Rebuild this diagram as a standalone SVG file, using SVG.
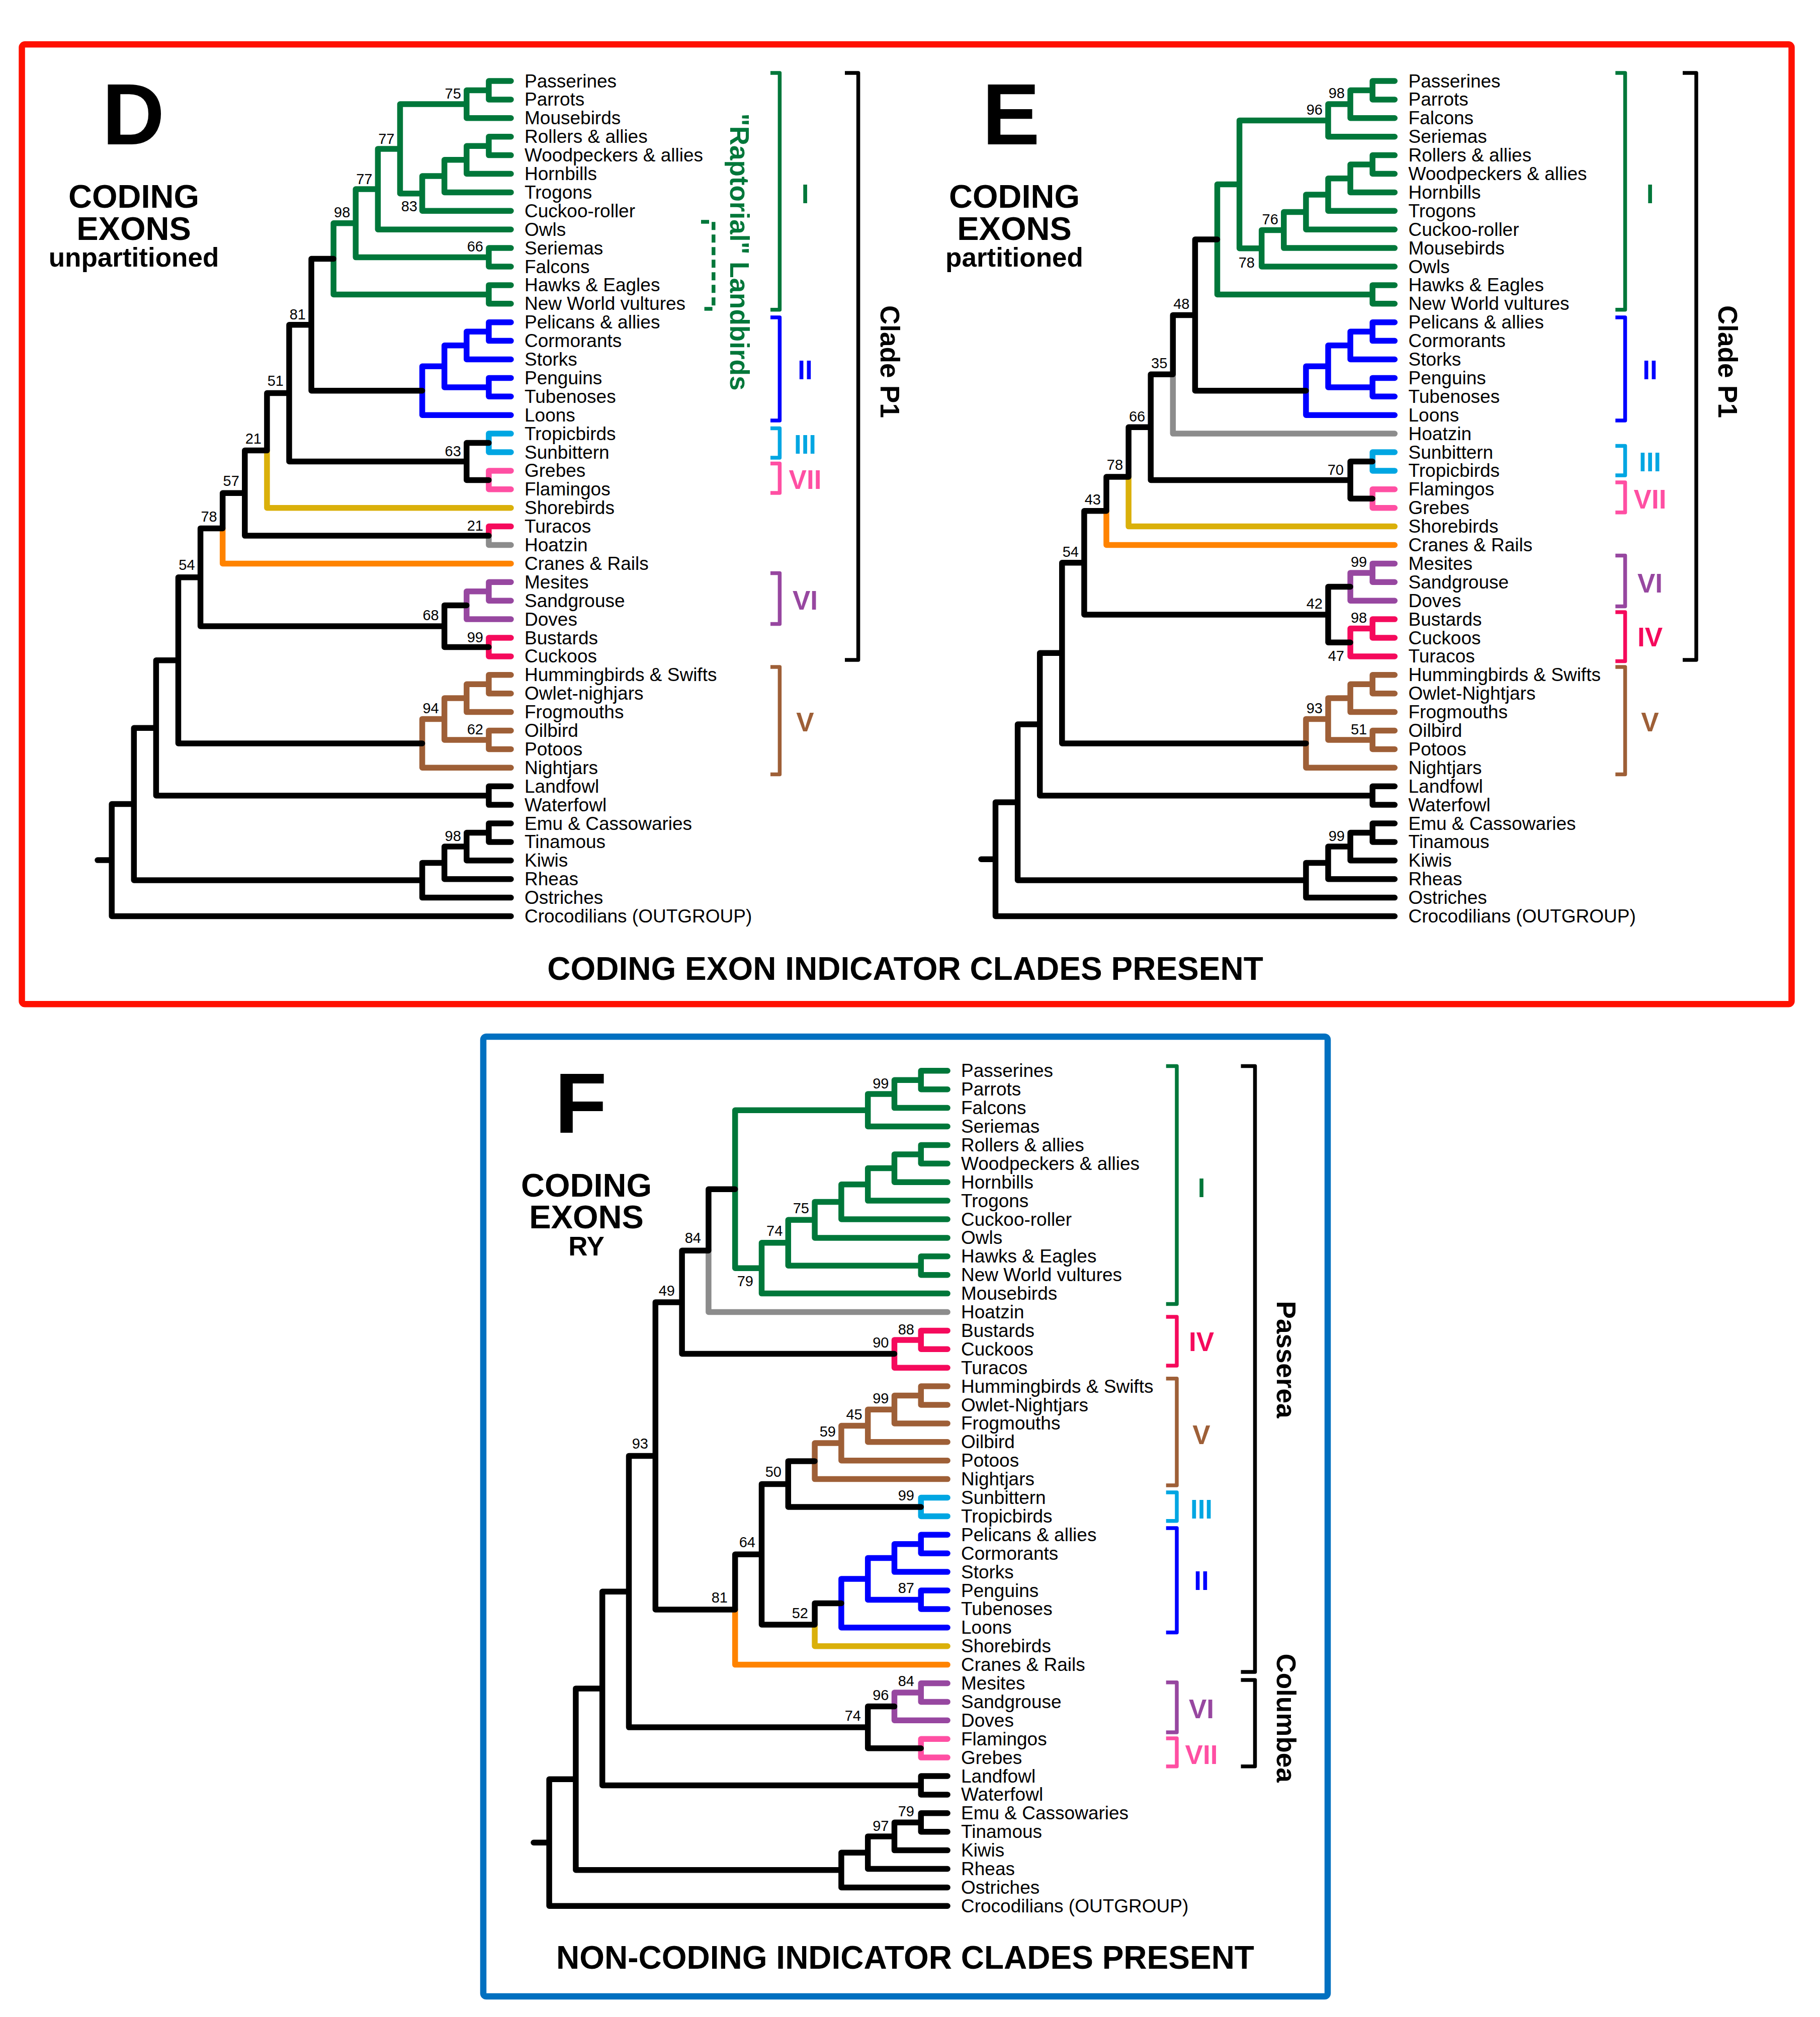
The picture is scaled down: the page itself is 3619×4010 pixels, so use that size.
<svg xmlns="http://www.w3.org/2000/svg" width="3619" height="4010" viewBox="0 0 3619 4010">
<style>
text{font-family:"Liberation Sans",Arial,Helvetica,sans-serif}
.br{fill:none;stroke-width:11.5;stroke-linecap:round;stroke-linejoin:round}
.bk{fill:none;stroke-width:7.5;stroke-linejoin:round}
.k{stroke:#000}.g{stroke:#00773A}.b{stroke:#0000FF}.c{stroke:#00A6E2}.p{stroke:#FF4FA3}.v{stroke:#9747A0}.r{stroke:#F50A5C}.n{stroke:#9E5F37}.y{stroke:#DAB00A}.o{stroke:#FF8300}.gr{stroke:#8C8C8C}
.lab{font-size:37px;fill:#000}
.bs{font-size:29px;text-anchor:end;fill:#000}
.num{font-size:53px;font-weight:bold;text-anchor:middle}
.rot{font-size:53px;font-weight:bold;text-anchor:middle}
.big{font-size:172px;font-weight:bold}
.hd{font-size:65px;font-weight:bold;text-anchor:middle}
.sub{font-size:53px;font-weight:bold;text-anchor:middle}
.ttl{font-size:64px;font-weight:bold;text-anchor:middle}
.fg{fill:#00773A}.fb{fill:#0000FF}.fc{fill:#00A6E2}.fp{fill:#FF4FA3}.fv{fill:#9747A0}.fr{fill:#F50A5C}.fn{fill:#9E5F37}
</style>
<rect x="0" y="0" width="3619" height="4010" fill="#fff"/>
<g id="frames">
<rect x="43.5" y="88.3" width="3519" height="1908" rx="6" fill="none" stroke="#FF1000" stroke-width="12.5"/>
<rect x="961" y="2061" width="1679" height="1908" rx="6" fill="none" stroke="#0070C0" stroke-width="12.5"/>
</g>

<!-- ================= PANEL D ================= -->
<g id="panel-D-titles">
<text x="203" y="287" class="big">D</text>
<text x="266" y="413" class="hd">CODING</text>
<text x="266" y="477" class="hd">EXONS</text>
<text x="266" y="530" class="sub">unpartitioned</text>
<text x="1800" y="1948" class="ttl">CODING EXON INDICATOR CLADES PRESENT</text>
</g>
<g id="panel-D-connectors">
<path class="br g" d="M1016 161H971.9V197.9H1016M971.9 179.5H927.8V234.8H1016M1016 271.7H971.9V308.6H1016M971.9 290.2H927.8V345.5H1016M927.8 317.8H883.7V382.4H1016M883.7 350.1H839.6V419.3H1016M927.8 207.1H795.5V384.7H839.6M795.5 295.9H751.4V456.2H1016M1016 493.1H971.9V530H1016M751.4 376.1H707.3V511.6H971.9M1016 566.9H971.9V603.8H1016M707.3 443.8H663.2V585.4H971.9"/>
<path class="br b" d="M1016 640.7H971.9V677.6H1016M971.9 659.2H927.8V714.5H1016M1016 751.4H971.9V788.3H1016M927.8 686.8H883.7V769.9H971.9M883.7 728.3H839.6V825.2H1016"/>
<path class="br c" d="M1016 862.1H971.9V899H1016"/>
<path class="br p" d="M1016 935.9H971.9V972.8H1016"/>
<path class="br y" d="M530.9 895.6V1009.7H1016"/>
<path class="br r" d="M971.9 1065.1V1046.6H1016M1016 1268H971.9V1304.9H1016"/>
<path class="br gr" d="M971.9 1065.1V1083.5H1016"/>
<path class="br o" d="M442.7 1050.4V1120.4H1016"/>
<path class="br v" d="M1016 1157.3H971.9V1194.2H1016M971.9 1175.8H927.8V1231.1H1016"/>
<path class="br n" d="M1016 1341.8H971.9V1378.7H1016M971.9 1360.3H927.8V1415.6H1016M1016 1452.5H971.9V1489.4H1016M927.8 1387.9H883.7V1471H971.9M883.7 1429.4H839.6V1526.3H1016"/>
<path class="br k" d="M663.2 514.6H619.1V776.8H839.6M971.9 880.6H927.8V954.4H971.9M619.1 645.7H575V917.5H927.8M575 781.6H530.9V895.6M530.9 895.6H486.8V1065.1H971.9M486.8 980.3H442.7V1050.4M927.8 1203.4H883.7V1286.5H971.9M442.7 1050.4H398.6V1244.9H883.7M398.6 1147.7H354.5V1477.9H839.6M1016 1563.2H971.9V1600.1H1016M354.5 1312.8H310.4V1581.7H971.9M1016 1637H971.9V1673.9H1016M971.9 1655.5H927.8V1710.8H1016M927.8 1683.1H883.7V1747.7H1016M883.7 1715.4H839.6V1784.6H1016M310.4 1447.2H266.3V1750H839.6M266.3 1598.6H222.2V1821.5H1016M194 1710.1H222.2"/>
</g>
<g id="panel-D-support">
<text class="bs" x="916.8" y="196">75</text><text class="bs" x="784.5" y="285.5">77</text><text class="bs" x="740.4" y="365.5">77</text><text class="bs" x="830" y="420">83</text><text class="bs" x="696.3" y="431.5">98</text><text class="bs" x="960.9" y="500">66</text><text class="bs" x="608" y="634.5">81</text><text class="bs" x="564" y="767">51</text><text class="bs" x="916.8" y="906.5">63</text><text class="bs" x="520" y="882">21</text><text class="bs" x="475.8" y="966">57</text><text class="bs" x="960.9" y="1055">21</text><text class="bs" x="431.7" y="1037">78</text><text class="bs" x="387.6" y="1133">54</text><text class="bs" x="872.7" y="1233">68</text><text class="bs" x="960.9" y="1276.5">99</text><text class="bs" x="872.7" y="1418.4">94</text><text class="bs" x="960.9" y="1459.5">62</text><text class="bs" x="916.8" y="1671.5">98</text>
</g>
<g id="panel-D-leaves" class="lab">
<text id="D-passerines" class="lab" x="1043" y="173.5">Passerines</text>
<text id="D-parrots" class="lab" x="1043" y="210.4">Parrots</text>
<text id="D-mousebirds" class="lab" x="1043" y="247.3">Mousebirds</text>
<text id="D-rollers" class="lab" x="1043" y="284.2">Rollers &amp; allies</text>
<text id="D-woodpeckers" class="lab" x="1043" y="321.1">Woodpeckers &amp; allies</text>
<text id="D-hornbills" class="lab" x="1043" y="358">Hornbills</text>
<text id="D-trogons" class="lab" x="1043" y="394.9">Trogons</text>
<text id="D-cuckooroller" class="lab" x="1043" y="431.8">Cuckoo-roller</text>
<text id="D-owls" class="lab" x="1043" y="468.7">Owls</text>
<text id="D-seriemas" class="lab" x="1043" y="505.6">Seriemas</text>
<text id="D-falcons" class="lab" x="1043" y="542.5">Falcons</text>
<text id="D-hawks" class="lab" x="1043" y="579.4">Hawks &amp; Eagles</text>
<text id="D-nwv" class="lab" x="1043" y="616.3">New World vultures</text>
<text id="D-pelicans" class="lab" x="1043" y="653.2">Pelicans &amp; allies</text>
<text id="D-cormorants" class="lab" x="1043" y="690.1">Cormorants</text>
<text id="D-storks" class="lab" x="1043" y="727">Storks</text>
<text id="D-penguins" class="lab" x="1043" y="763.9">Penguins</text>
<text id="D-tubenoses" class="lab" x="1043" y="800.8">Tubenoses</text>
<text id="D-loons" class="lab" x="1043" y="837.7">Loons</text>
<text id="D-tropicbirds" class="lab" x="1043" y="874.6">Tropicbirds</text>
<text id="D-sunbittern" class="lab" x="1043" y="911.5">Sunbittern</text>
<text id="D-grebes" class="lab" x="1043" y="948.4">Grebes</text>
<text id="D-flamingos" class="lab" x="1043" y="985.3">Flamingos</text>
<text id="D-shorebirds" class="lab" x="1043" y="1022.2">Shorebirds</text>
<text id="D-turacos" class="lab" x="1043" y="1059.1">Turacos</text>
<text id="D-hoatzin" class="lab" x="1043" y="1096">Hoatzin</text>
<text id="D-cranes" class="lab" x="1043" y="1132.9">Cranes &amp; Rails</text>
<text id="D-mesites" class="lab" x="1043" y="1169.8">Mesites</text>
<text id="D-sandgrouse" class="lab" x="1043" y="1206.7">Sandgrouse</text>
<text id="D-doves" class="lab" x="1043" y="1243.6">Doves</text>
<text id="D-bustards" class="lab" x="1043" y="1280.5">Bustards</text>
<text id="D-cuckoos" class="lab" x="1043" y="1317.4">Cuckoos</text>
<text id="D-hummingbirds" class="lab" x="1043" y="1354.3">Hummingbirds &amp; Swifts</text>
<text id="D-owlet" class="lab" x="1043" y="1391.2">Owlet-nighjars</text>
<text id="D-frogmouths" class="lab" x="1043" y="1428.1">Frogmouths</text>
<text id="D-oilbird" class="lab" x="1043" y="1465">Oilbird</text>
<text id="D-potoos" class="lab" x="1043" y="1501.9">Potoos</text>
<text id="D-nightjars" class="lab" x="1043" y="1538.8">Nightjars</text>
<text id="D-landfowl" class="lab" x="1043" y="1575.7">Landfowl</text>
<text id="D-waterfowl" class="lab" x="1043" y="1612.6">Waterfowl</text>
<text id="D-emu" class="lab" x="1043" y="1649.5">Emu &amp; Cassowaries</text>
<text id="D-tinamous" class="lab" x="1043" y="1686.4">Tinamous</text>
<text id="D-kiwis" class="lab" x="1043" y="1723.3">Kiwis</text>
<text id="D-rheas" class="lab" x="1043" y="1760.2">Rheas</text>
<text id="D-ostriches" class="lab" x="1043" y="1797.1">Ostriches</text>
<text id="D-croc" class="lab" x="1043" y="1834">Crocodilians (OUTGROUP)</text>
</g>
<g id="panel-D-brackets">
<path class="bk g" d="M1532 145H1550.4V615.7H1532"/>
<path class="bk b" d="M1532 631H1550.4V836H1532"/>
<path class="bk c" d="M1532 851.5H1550.4V910H1532"/>
<path class="bk p" d="M1532 921.5H1550.4V980H1532"/>
<path class="bk v" d="M1532 1139.5H1550.4V1240.6H1532"/>
<path class="bk n" d="M1532 1326H1550.4V1539.6H1532"/>
<path class="bk k" d="M1680 145H1706.6V1312H1680"/>
<path class="bk g" stroke-dasharray="16 9" d="M1394 441H1418.8V614H1394"/>
<text class="num fg" x="1601" y="404">I</text>
<text class="num fb" x="1601" y="754">II</text>
<text class="num fc" x="1601" y="902">III</text>
<text class="num fp" x="1601" y="972">VII</text>
<text class="num fv" x="1601" y="1212">VI</text>
<text class="num fn" x="1601" y="1454">V</text>
<text class="rot fg" transform="translate(1452 501) rotate(90)">"Raptorial" Landbirds</text>
<text class="rot" transform="translate(1751 719) rotate(90)">Clade P1</text>
</g>

<!-- ================= PANEL E ================= -->
<g id="panel-E-titles">
<text x="1953" y="287" class="big">E</text>
<text x="2017" y="413" class="hd">CODING</text>
<text x="2017" y="477" class="hd">EXONS</text>
<text x="2017" y="530" class="sub">partitioned</text>
</g>
<g id="panel-E-connectors">
<path class="br g" d="M2773.3 161H2729.2V197.9H2773.3M2729.2 179.5H2685.1V234.8H2773.3M2685.1 207.1H2641V271.7H2773.3M2773.3 308.6H2729.2V345.5H2773.3M2729.2 327.1H2685.1V382.4H2773.3M2685.1 354.7H2641V419.3H2773.3M2641 387H2596.9V456.2H2773.3M2596.9 421.6H2552.8V493.1H2773.3M2552.8 457.4H2508.7V530H2773.3M2641 239.4H2464.6V493.7H2508.7M2773.3 566.9H2729.2V603.8H2773.3M2464.6 366.5H2420.5V585.4H2729.2"/>
<path class="br b" d="M2773.3 640.7H2729.2V677.6H2773.3M2729.2 659.2H2685.1V714.5H2773.3M2773.3 751.4H2729.2V788.3H2773.3M2685.1 686.8H2641V769.9H2729.2M2641 728.3H2596.9V825.2H2773.3"/>
<path class="br gr" d="M2332.3 744.2V862.1H2773.3"/>
<path class="br c" d="M2773.3 899H2729.2V935.9H2773.3"/>
<path class="br p" d="M2773.3 972.8H2729.2V1009.7H2773.3"/>
<path class="br y" d="M2244.1 948V1046.6H2773.3"/>
<path class="br o" d="M2200 1015.7V1083.5H2773.3"/>
<path class="br v" d="M2773.3 1120.4H2729.2V1157.3H2773.3M2729.2 1138.9H2685.1V1194.2H2773.3"/>
<path class="br r" d="M2773.3 1231.1H2729.2V1268H2773.3M2729.2 1249.6H2685.1V1304.9H2773.3"/>
<path class="br n" d="M2773.3 1341.8H2729.2V1378.7H2773.3M2729.2 1360.3H2685.1V1415.6H2773.3M2773.3 1452.5H2729.2V1489.4H2773.3M2685.1 1387.9H2641V1471H2729.2M2641 1429.4H2596.9V1526.3H2773.3"/>
<path class="br k" d="M2420.5 476H2376.4V776.8H2596.9M2376.4 626.4H2332.3V744.2M2729.2 917.5H2685.1V991.3H2729.2M2332.3 744.2H2288.2V954.4H2685.1M2288.2 849.3H2244.1V948M2244.1 948H2200V1015.7M2685.1 1166.5H2641V1277.2H2685.1M2200 1015.7H2155.9V1221.9H2641M2155.9 1118.8H2111.8V1477.9H2596.9M2773.3 1563.2H2729.2V1600.1H2773.3M2111.8 1298.3H2067.7V1581.7H2729.2M2773.3 1637H2729.2V1673.9H2773.3M2729.2 1655.5H2685.1V1710.8H2773.3M2685.1 1683.1H2641V1747.7H2773.3M2641 1715.4H2596.9V1784.6H2773.3M2067.7 1440H2023.6V1750H2596.9M2023.6 1595H1979.5V1821.5H2773.3M1951 1708.3H1979.5"/>
</g>
<g id="panel-E-support">
<text class="bs" x="2674" y="195">98</text><text class="bs" x="2630" y="228.2">96</text><text class="bs" x="2541.8" y="446.2">76</text><text class="bs" x="2495" y="531.5">78</text><text class="bs" x="2365.4" y="614">48</text><text class="bs" x="2321.3" y="732">35</text><text class="bs" x="2277.2" y="838">66</text><text class="bs" x="2233.1" y="934">78</text><text class="bs" x="2189" y="1003">43</text><text class="bs" x="2672" y="943.6">70</text><text class="bs" x="2144.9" y="1106.5">54</text><text class="bs" x="2718.2" y="1127">99</text><text class="bs" x="2630" y="1210.2">42</text><text class="bs" x="2718.2" y="1238.3">98</text><text class="bs" x="2673" y="1314">47</text><text class="bs" x="2630" y="1418.4">93</text><text class="bs" x="2718.2" y="1459.5">51</text><text class="bs" x="2674" y="1672">99</text>
</g>
<g id="panel-E-leaves">
<text id="E-passerines" class="lab" x="2800.5" y="173.5">Passerines</text>
<text id="E-parrots" class="lab" x="2800.5" y="210.4">Parrots</text>
<text id="E-falcons" class="lab" x="2800.5" y="247.3">Falcons</text>
<text id="E-seriemas" class="lab" x="2800.5" y="284.2">Seriemas</text>
<text id="E-rollers" class="lab" x="2800.5" y="321.1">Rollers &amp; allies</text>
<text id="E-woodpeckers" class="lab" x="2800.5" y="358">Woodpeckers &amp; allies</text>
<text id="E-hornbills" class="lab" x="2800.5" y="394.9">Hornbills</text>
<text id="E-trogons" class="lab" x="2800.5" y="431.8">Trogons</text>
<text id="E-cuckooroller" class="lab" x="2800.5" y="468.7">Cuckoo-roller</text>
<text id="E-mousebirds" class="lab" x="2800.5" y="505.6">Mousebirds</text>
<text id="E-owls" class="lab" x="2800.5" y="542.5">Owls</text>
<text id="E-hawks" class="lab" x="2800.5" y="579.4">Hawks &amp; Eagles</text>
<text id="E-nwv" class="lab" x="2800.5" y="616.3">New World vultures</text>
<text id="E-pelicans" class="lab" x="2800.5" y="653.2">Pelicans &amp; allies</text>
<text id="E-cormorants" class="lab" x="2800.5" y="690.1">Cormorants</text>
<text id="E-storks" class="lab" x="2800.5" y="727">Storks</text>
<text id="E-penguins" class="lab" x="2800.5" y="763.9">Penguins</text>
<text id="E-tubenoses" class="lab" x="2800.5" y="800.8">Tubenoses</text>
<text id="E-loons" class="lab" x="2800.5" y="837.7">Loons</text>
<text id="E-hoatzin" class="lab" x="2800.5" y="874.6">Hoatzin</text>
<text id="E-sunbittern" class="lab" x="2800.5" y="911.5">Sunbittern</text>
<text id="E-tropicbirds" class="lab" x="2800.5" y="948.4">Tropicbirds</text>
<text id="E-flamingos" class="lab" x="2800.5" y="985.3">Flamingos</text>
<text id="E-grebes" class="lab" x="2800.5" y="1022.2">Grebes</text>
<text id="E-shorebirds" class="lab" x="2800.5" y="1059.1">Shorebirds</text>
<text id="E-cranes" class="lab" x="2800.5" y="1096">Cranes &amp; Rails</text>
<text id="E-mesites" class="lab" x="2800.5" y="1132.9">Mesites</text>
<text id="E-sandgrouse" class="lab" x="2800.5" y="1169.8">Sandgrouse</text>
<text id="E-doves" class="lab" x="2800.5" y="1206.7">Doves</text>
<text id="E-bustards" class="lab" x="2800.5" y="1243.6">Bustards</text>
<text id="E-cuckoos" class="lab" x="2800.5" y="1280.5">Cuckoos</text>
<text id="E-turacos" class="lab" x="2800.5" y="1317.4">Turacos</text>
<text id="E-hummingbirds" class="lab" x="2800.5" y="1354.3">Hummingbirds &amp; Swifts</text>
<text id="E-owlet" class="lab" x="2800.5" y="1391.2">Owlet-Nightjars</text>
<text id="E-frogmouths" class="lab" x="2800.5" y="1428.1">Frogmouths</text>
<text id="E-oilbird" class="lab" x="2800.5" y="1465">Oilbird</text>
<text id="E-potoos" class="lab" x="2800.5" y="1501.9">Potoos</text>
<text id="E-nightjars" class="lab" x="2800.5" y="1538.8">Nightjars</text>
<text id="E-landfowl" class="lab" x="2800.5" y="1575.7">Landfowl</text>
<text id="E-waterfowl" class="lab" x="2800.5" y="1612.6">Waterfowl</text>
<text id="E-emu" class="lab" x="2800.5" y="1649.5">Emu &amp; Cassowaries</text>
<text id="E-tinamous" class="lab" x="2800.5" y="1686.4">Tinamous</text>
<text id="E-kiwis" class="lab" x="2800.5" y="1723.3">Kiwis</text>
<text id="E-rheas" class="lab" x="2800.5" y="1760.2">Rheas</text>
<text id="E-ostriches" class="lab" x="2800.5" y="1797.1">Ostriches</text>
<text id="E-croc" class="lab" x="2800.5" y="1834">Crocodilians (OUTGROUP)</text>
</g>
<g id="panel-E-brackets">
<path class="bk g" d="M3212.2 145H3231.5V615.7H3212.2"/>
<path class="bk b" d="M3212.2 631H3231.5V836H3212.2"/>
<path class="bk c" d="M3212.2 886.5H3231.5V945H3212.2"/>
<path class="bk p" d="M3212.2 959H3231.5V1018.8H3212.2"/>
<path class="bk v" d="M3212.2 1104.4H3231.5V1205.6H3212.2"/>
<path class="bk r" d="M3212.2 1217H3231.5V1314.5H3212.2"/>
<path class="bk n" d="M3212.2 1326H3231.5V1539.6H3212.2"/>
<path class="bk k" d="M3346 145H3373V1312H3346"/>
<text class="num fg" x="3281" y="404">I</text>
<text class="num fb" x="3281" y="754">II</text>
<text class="num fc" x="3281" y="937">III</text>
<text class="num fp" x="3281" y="1011">VII</text>
<text class="num fv" x="3281" y="1178">VI</text>
<text class="num fr" x="3281" y="1285">IV</text>
<text class="num fn" x="3281" y="1454">V</text>
<text class="rot" transform="translate(3417 719) rotate(90)">Clade P1</text>
</g>

<!-- ================= PANEL F ================= -->
<g id="panel-F-titles">
<text x="1103" y="2252" class="big" style="font-size:170px">F</text>
<text x="1166" y="2378.5" class="hd">CODING</text>
<text x="1166" y="2441.7" class="hd">EXONS</text>
<text x="1166" y="2496" class="sub">RY</text>
<text x="1800" y="3914" class="ttl">NON-CODING INDICATOR CLADES PRESENT</text>
</g>
<g id="panel-F-connectors">
<path class="br g" d="M1884.1 2128.8H1831.3V2165.7H1884.1M1831.3 2147.3H1778.5V2202.6H1884.1M1778.5 2174.9H1725.7V2239.5H1884.1M1884.1 2276.4H1831.3V2313.3H1884.1M1831.3 2294.9H1778.5V2350.2H1884.1M1778.5 2322.5H1725.7V2387.1H1884.1M1725.7 2354.8H1672.9V2424H1884.1M1672.9 2389.4H1620.1V2460.9H1884.1M1884.1 2497.8H1831.3V2534.7H1884.1M1620.1 2425.2H1567.3V2516.3H1831.3M1567.3 2470.7H1514.5V2571.6H1884.1M1725.7 2207.2H1461.7V2521.2H1514.5"/>
<path class="br gr" d="M1408.9 2486.3V2608.5H1884.1"/>
<path class="br r" d="M1884.1 2645.4H1831.3V2682.3H1884.1M1831.3 2663.9H1778.5V2719.2H1884.1"/>
<path class="br n" d="M1884.1 2756.1H1831.3V2793H1884.1M1831.3 2774.6H1778.5V2829.9H1884.1M1778.5 2802.2H1725.7V2866.8H1884.1M1725.7 2834.5H1672.9V2903.7H1884.1M1672.9 2869.1H1620.1V2940.6H1884.1"/>
<path class="br c" d="M1884.1 2977.5H1831.3V3014.4H1884.1"/>
<path class="br b" d="M1884.1 3051.3H1831.3V3088.2H1884.1M1831.3 3069.8H1778.5V3125.1H1884.1M1884.1 3162H1831.3V3198.9H1884.1M1778.5 3097.4H1725.7V3180.5H1831.3M1725.7 3138.9H1672.9V3235.8H1884.1"/>
<path class="br y" d="M1620.1 3230V3272.7H1884.1"/>
<path class="br o" d="M1461.7 3199.9V3309.6H1884.1"/>
<path class="br v" d="M1884.1 3346.5H1831.3V3383.4H1884.1M1831.3 3365H1778.5V3420.3H1884.1"/>
<path class="br p" d="M1884.1 3457.2H1831.3V3494.1H1884.1"/>
<path class="br k" d="M1461.7 2364.2H1408.9V2486.3M1408.9 2486.3H1356.1V2691.5H1778.5M1620.1 2904.9H1567.3V2996H1831.3M1672.9 3187.4H1620.1V3230M1567.3 2950.4H1514.5V3230H1620.1M1514.5 3090.2H1461.7V3199.9M1356.1 2588.9H1303.3V3199.9H1461.7M1778.5 3392.6H1725.7V3475.7H1831.3M1303.3 2894.4H1250.5V3434.1H1725.7M1884.1 3531H1831.3V3567.9H1884.1M1250.5 3164.3H1197.7V3549.5H1831.3M1884.1 3604.8H1831.3V3641.7H1884.1M1831.3 3623.3H1778.5V3678.6H1884.1M1778.5 3650.9H1725.7V3715.5H1884.1M1725.7 3683.2H1672.9V3752.4H1884.1M1197.7 3356.9H1144.9V3717.8H1672.9M1144.9 3537.3H1092.1V3789.3H1884.1M1061 3663.3H1092.1"/>
</g>
<g id="panel-F-support">
<text class="bs" x="1767.5" y="2163.5">99</text><text class="bs" x="1609" y="2412">75</text><text class="bs" x="1556.3" y="2457">74</text><text class="bs" x="1498" y="2557">79</text><text class="bs" x="1394" y="2471">84</text><text class="bs" x="1342" y="2576">49</text><text class="bs" x="1818" y="2652.5">88</text><text class="bs" x="1767.5" y="2678.5">90</text><text class="bs" x="1767.5" y="2790">99</text><text class="bs" x="1714.7" y="2822">45</text><text class="bs" x="1661.9" y="2856">59</text><text class="bs" x="1554" y="2936">50</text><text class="bs" x="1289" y="2880">93</text><text class="bs" x="1818" y="2983">99</text><text class="bs" x="1502" y="3076">64</text><text class="bs" x="1818" y="3167">87</text><text class="bs" x="1447" y="3186">81</text><text class="bs" x="1607" y="3217">52</text><text class="bs" x="1818" y="3352">84</text><text class="bs" x="1767.5" y="3380">96</text><text class="bs" x="1712" y="3421">74</text><text class="bs" x="1818" y="3611">79</text><text class="bs" x="1767.5" y="3639.5">97</text>
</g>
<g id="panel-F-leaves">
<text id="F-passerines" class="lab" x="1911" y="2141.3">Passerines</text>
<text id="F-parrots" class="lab" x="1911" y="2178.2">Parrots</text>
<text id="F-falcons" class="lab" x="1911" y="2215.1">Falcons</text>
<text id="F-seriemas" class="lab" x="1911" y="2252">Seriemas</text>
<text id="F-rollers" class="lab" x="1911" y="2288.9">Rollers &amp; allies</text>
<text id="F-woodpeckers" class="lab" x="1911" y="2325.8">Woodpeckers &amp; allies</text>
<text id="F-hornbills" class="lab" x="1911" y="2362.7">Hornbills</text>
<text id="F-trogons" class="lab" x="1911" y="2399.6">Trogons</text>
<text id="F-cuckooroller" class="lab" x="1911" y="2436.5">Cuckoo-roller</text>
<text id="F-owls" class="lab" x="1911" y="2473.4">Owls</text>
<text id="F-hawks" class="lab" x="1911" y="2510.3">Hawks &amp; Eagles</text>
<text id="F-nwv" class="lab" x="1911" y="2547.2">New World vultures</text>
<text id="F-mousebirds" class="lab" x="1911" y="2584.1">Mousebirds</text>
<text id="F-hoatzin" class="lab" x="1911" y="2621">Hoatzin</text>
<text id="F-bustards" class="lab" x="1911" y="2657.9">Bustards</text>
<text id="F-cuckoos" class="lab" x="1911" y="2694.8">Cuckoos</text>
<text id="F-turacos" class="lab" x="1911" y="2731.7">Turacos</text>
<text id="F-hummingbirds" class="lab" x="1911" y="2768.6">Hummingbirds &amp; Swifts</text>
<text id="F-owlet" class="lab" x="1911" y="2805.5">Owlet-Nightjars</text>
<text id="F-frogmouths" class="lab" x="1911" y="2842.4">Frogmouths</text>
<text id="F-oilbird" class="lab" x="1911" y="2879.3">Oilbird</text>
<text id="F-potoos" class="lab" x="1911" y="2916.2">Potoos</text>
<text id="F-nightjars" class="lab" x="1911" y="2953.1">Nightjars</text>
<text id="F-sunbittern" class="lab" x="1911" y="2990">Sunbittern</text>
<text id="F-tropicbirds" class="lab" x="1911" y="3026.9">Tropicbirds</text>
<text id="F-pelicans" class="lab" x="1911" y="3063.8">Pelicans &amp; allies</text>
<text id="F-cormorants" class="lab" x="1911" y="3100.7">Cormorants</text>
<text id="F-storks" class="lab" x="1911" y="3137.6">Storks</text>
<text id="F-penguins" class="lab" x="1911" y="3174.5">Penguins</text>
<text id="F-tubenoses" class="lab" x="1911" y="3211.4">Tubenoses</text>
<text id="F-loons" class="lab" x="1911" y="3248.3">Loons</text>
<text id="F-shorebirds" class="lab" x="1911" y="3285.2">Shorebirds</text>
<text id="F-cranes" class="lab" x="1911" y="3322.1">Cranes &amp; Rails</text>
<text id="F-mesites" class="lab" x="1911" y="3359">Mesites</text>
<text id="F-sandgrouse" class="lab" x="1911" y="3395.9">Sandgrouse</text>
<text id="F-doves" class="lab" x="1911" y="3432.8">Doves</text>
<text id="F-flamingos" class="lab" x="1911" y="3469.7">Flamingos</text>
<text id="F-grebes" class="lab" x="1911" y="3506.6">Grebes</text>
<text id="F-landfowl" class="lab" x="1911" y="3543.5">Landfowl</text>
<text id="F-waterfowl" class="lab" x="1911" y="3580.4">Waterfowl</text>
<text id="F-emu" class="lab" x="1911" y="3617.3">Emu &amp; Cassowaries</text>
<text id="F-tinamous" class="lab" x="1911" y="3654.2">Tinamous</text>
<text id="F-kiwis" class="lab" x="1911" y="3691.1">Kiwis</text>
<text id="F-rheas" class="lab" x="1911" y="3728">Rheas</text>
<text id="F-ostriches" class="lab" x="1911" y="3764.9">Ostriches</text>
<text id="F-croc" class="lab" x="1911" y="3801.8">Crocodilians (OUTGROUP)</text>
</g>
<g id="panel-F-brackets">
<path class="bk g" d="M2318.7 2119.6H2340V2592.5H2318.7"/>
<path class="bk r" d="M2318.7 2618H2340V2715H2318.7"/>
<path class="bk n" d="M2318.7 2740.7H2340V2953H2318.7"/>
<path class="bk c" d="M2318.7 2967H2340V3023.8H2318.7"/>
<path class="bk b" d="M2318.7 3038H2340V3245.6H2318.7"/>
<path class="bk v" d="M2318.7 3344.8H2340V3443.9H2318.7"/>
<path class="bk p" d="M2318.7 3456H2340V3511.8H2318.7"/>
<path class="bk k" d="M2467.5 2119.6H2495.5V3324H2467.5M2467.5 3340H2495.5V3511.8H2467.5"/>
<text class="num fg" x="2389" y="2380">I</text>
<text class="num fr" x="2389" y="2686">IV</text>
<text class="num fn" x="2389" y="2871">V</text>
<text class="num fc" x="2389" y="3019">III</text>
<text class="num fb" x="2389" y="3161">II</text>
<text class="num fv" x="2389" y="3415.5">VI</text>
<text class="num fp" x="2389" y="3507">VII</text>
<text class="rot" transform="translate(2539 2703) rotate(90)">Passerea</text>
<text class="rot" transform="translate(2539 3415.5) rotate(90)">Columbea</text>
</g>
</svg>
